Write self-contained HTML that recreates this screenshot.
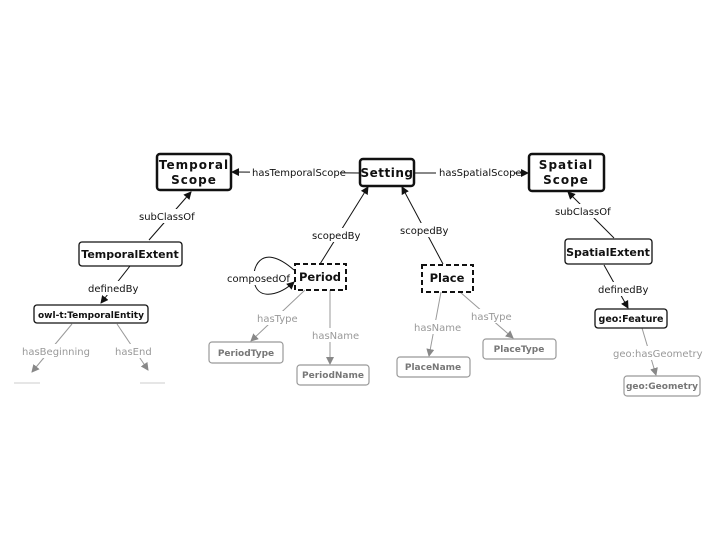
<!DOCTYPE html>
<html><head><meta charset="utf-8"><style>
html,body{margin:0;padding:0;background:#fff;}
svg{display:block;font-family:"DejaVu Sans","Liberation Sans",sans-serif;}
</style></head><body>
<svg width="720" height="540" viewBox="0 0 720 540" xmlns="http://www.w3.org/2000/svg">
<defs>
<marker id="a" markerWidth="8" markerHeight="8" refX="7" refY="4" orient="auto" markerUnits="userSpaceOnUse"><path d="M0,0 L8,4 L0,8 z" fill="#111"/></marker>
<marker id="g" markerWidth="8" markerHeight="8" refX="7" refY="4" orient="auto" markerUnits="userSpaceOnUse"><path d="M0,0 L8,4 L0,8 z" fill="#888"/></marker>
</defs>
<g fill="none" stroke="#111" stroke-width="1">
<line x1="360" y1="173" x2="232" y2="172" marker-end="url(#a)"/>
<line x1="414" y1="173" x2="528" y2="173" marker-end="url(#a)"/>
<line x1="149" y1="240" x2="191" y2="192" marker-end="url(#a)"/>
<line x1="320" y1="264" x2="368" y2="187" marker-end="url(#a)"/>
<line x1="443" y1="264" x2="402" y2="187" marker-end="url(#a)"/>
<line x1="614" y1="238" x2="568" y2="192" marker-end="url(#a)"/>
<line x1="130" y1="266" x2="101" y2="303" marker-end="url(#a)"/>
<line x1="604" y1="265" x2="628" y2="308" marker-end="url(#a)"/>
<path d="M294,270 C260,240 250,270 255,285 C260,300 280,295 294,282" marker-end="url(#a)"/>
</g>
<g fill="none" stroke="#999" stroke-width="1">
<line x1="305" y1="290" x2="251" y2="341" marker-end="url(#g)"/>
<line x1="330" y1="290" x2="330" y2="364" marker-end="url(#g)"/>
<line x1="441" y1="292" x2="429" y2="356" marker-end="url(#g)"/>
<line x1="460" y1="292" x2="513" y2="338" marker-end="url(#g)"/>
<line x1="642" y1="328" x2="656" y2="375" marker-end="url(#g)"/>
<line x1="72" y1="324" x2="32" y2="372" marker-end="url(#g)"/>
<line x1="117" y1="324" x2="148" y2="370" marker-end="url(#g)"/>
<line x1="14" y1="383" x2="40" y2="383" stroke="#ccc"/>
<line x1="140" y1="383" x2="165" y2="383" stroke="#ccc"/>
</g>
<!-- label backgrounds -->
<g fill="#fff">
<rect x="250" y="165" width="90" height="14"/>
<rect x="436" y="165" width="78" height="14"/>
<rect x="137" y="209" width="56" height="14"/>
<rect x="310" y="228" width="55" height="14"/>
<rect x="398" y="223" width="52" height="14"/>
<rect x="553" y="204" width="58" height="14"/>
<rect x="86" y="281" width="52" height="14"/>
<rect x="596" y="282" width="52" height="14"/>
<rect x="224" y="271" width="62" height="14"/>
<rect x="255" y="311" width="42" height="14"/>
<rect x="310" y="328" width="45" height="14"/>
<rect x="412" y="320" width="44" height="14"/>
<rect x="469" y="309" width="40" height="14"/>
<rect x="611" y="346" width="84" height="14"/>
<rect x="20" y="344" width="66" height="14"/>
<rect x="113" y="344" width="38" height="14"/>
</g>
<g font-size="10" fill="#111">
<text x="252" y="176">hasTemporalScope</text>
<text x="439" y="176">hasSpatialScope</text>
<text x="139" y="220">subClassOf</text>
<text x="312" y="239">scopedBy</text>
<text x="400" y="234">scopedBy</text>
<text x="555" y="215">subClassOf</text>
<text x="88" y="292">definedBy</text>
<text x="598" y="293">definedBy</text>
<text x="227" y="282">composedOf</text>
</g>
<g font-size="10" fill="#999">
<text x="257" y="322">hasType</text>
<text x="312" y="339">hasName</text>
<text x="414" y="331">hasName</text>
<text x="471" y="320">hasType</text>
<text x="613" y="357">geo:hasGeometry</text>
<text x="22" y="355">hasBeginning</text>
<text x="115" y="355">hasEnd</text>
</g>
<!-- nodes -->
<g fill="#fff" stroke="#111">
<rect x="157" y="154" width="74" height="36" rx="3" stroke-width="2.5"/>
<rect x="360" y="159" width="54" height="27" rx="3" stroke-width="2.5"/>
<rect x="529" y="154" width="75" height="37" rx="3" stroke-width="2.5"/>
<rect x="79" y="242" width="103" height="24" rx="3" stroke-width="1.3"/>
<rect x="565" y="239" width="87" height="25" rx="3" stroke-width="1.3"/>
<rect x="34" y="305" width="114" height="18" rx="3" stroke-width="1.3"/>
<rect x="595" y="309" width="72" height="19" rx="3" stroke-width="1.3"/>
<rect x="295" y="264" width="51" height="26" stroke-width="2" stroke-dasharray="5,3"/>
<rect x="422" y="265" width="51" height="27" stroke-width="2" stroke-dasharray="5,3"/>
</g>
<g fill="#fff" stroke="#999" stroke-width="1.2">
<rect x="209" y="342" width="74" height="21" rx="3"/>
<rect x="297" y="365" width="72" height="20" rx="3"/>
<rect x="397" y="357" width="73" height="20" rx="3"/>
<rect x="483" y="339" width="73" height="20" rx="3"/>
<rect x="624" y="376" width="76" height="20" rx="3"/>
</g>
<g font-weight="bold" fill="#111" text-anchor="middle">
<text x="194" y="169" font-size="12" letter-spacing="1">Temporal</text>
<text x="194" y="184" font-size="12" letter-spacing="1">Scope</text>
<text x="387" y="177" font-size="12" letter-spacing="0.5">Setting</text>
<text x="566" y="169" font-size="12" letter-spacing="1">Spatial</text>
<text x="566" y="184" font-size="12" letter-spacing="1">Scope</text>
<text x="130" y="258" font-size="11">TemporalExtent</text>
<text x="608" y="256" font-size="11">SpatialExtent</text>
<text x="91" y="318" font-size="9">owl-t:TemporalEntity</text>
<text x="631" y="322" font-size="9.5">geo:Feature</text>
<text x="320" y="281" font-size="11.5">Period</text>
<text x="447" y="282" font-size="11.5">Place</text>
</g>
<g font-weight="bold" fill="#777" text-anchor="middle" font-size="9">
<text x="246" y="356">PeriodType</text>
<text x="333" y="378">PeriodName</text>
<text x="433" y="370">PlaceName</text>
<text x="519" y="352">PlaceType</text>
<text x="662" y="389">geo:Geometry</text>
</g>
</svg>
</body></html>
